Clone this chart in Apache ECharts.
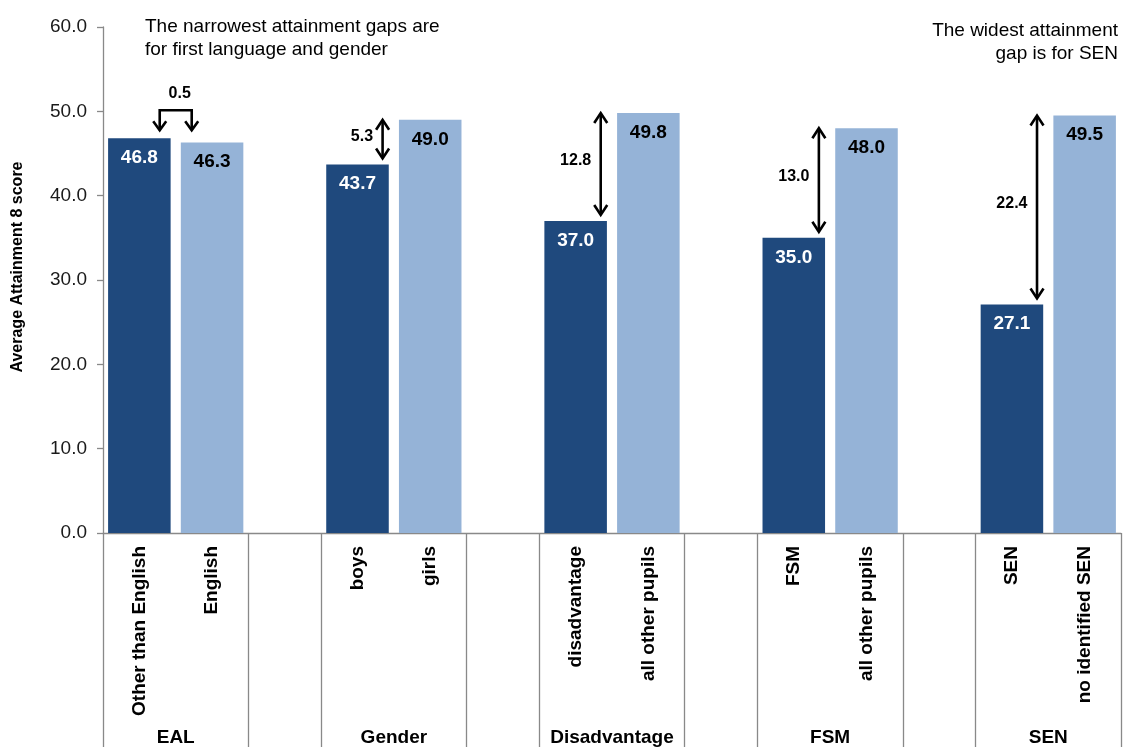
<!DOCTYPE html>
<html>
<head>
<meta charset="utf-8">
<script src="https://cdn.jsdelivr.net/npm/echarts@6/dist/echarts.min.js"></script>
<style>
html,body{margin:0;padding:0;background:#fff;}
#chart{width:1124px;height:747px;}
</style>
</head>
<body>
<div id="chart"></div>
<script>
const groups = ['EAL', 'Gender', 'Disadvantage', 'FSM', 'SEN'];
const labelsA = ['Other than English', 'boys', 'disadvantage', 'FSM', 'SEN'];
const labelsB = ['English', 'girls', 'all other pupils', 'all other pupils', 'no identified SEN'];
const valuesA = [46.8, 43.7, 37.0, 35.0, 27.1];
const valuesB = [46.3, 49.0, 49.8, 48.0, 49.5];
const gapLabels = ['0.5', '5.3', '12.8', '13.0', '22.4'];
const yAxisMin = 0, yAxisMax = 60, yAxisStep = 10;
const noteLeft = 'The narrowest attainment gaps are\nfor first language and gender';
const noteRight = 'The widest attainment\ngap is for SEN';

const FONT = '"Liberation Sans", Arial, Helvetica, sans-serif';
const DARK = '#1F497D', LIGHT = '#95B3D7', AXIS = '#898989';

const categories = [], dataA = [], dataB = [];
groups.forEach((g, i) => {
  categories.push(labelsA[i], labelsB[i]);
  dataA.push(valuesA[i], null);
  dataB.push(null, valuesB[i]);
  if (i < groups.length - 1) { categories.push(''); dataA.push(null); dataB.push(null); }
});
const gapData = groups.map((g, i) => [3 * i, valuesA[i], valuesB[i]]);

function chevron(x, y, dir, hw, h) {
  return [[x - hw, y - dir * h], [x, y], [x + hw, y - dir * h]];
}

function renderGap(params, api) {
  const ia = api.value(0), a = api.value(1), b = api.value(2);
  const band = api.size([1, 0])[0];
  const pA = api.coord([ia, a]);
  const pB = api.coord([ia + 1, b]);
  const label = gapLabels[params.dataIndex];
  const stroke = { stroke: '#000', lineWidth: 2.6, fill: null };
  const txt = (x, y, align) => ({
    type: 'text',
    style: { x: x, y: y, text: label, fill: '#000', fontSize: 16, fontWeight: 'bold', fontFamily: FONT, align: align, verticalAlign: 'middle' }
  });
  if (Math.abs(a - b) < 1) {
    const mid = (pA[0] + pB[0]) / 2;
    const xl = mid - band * 0.22, xr = mid + band * 0.22;
    const tipY = Math.min(pA[1], pB[1]) - 8;
    const topY = tipY - 20;
    return {
      type: 'group',
      children: [
        { type: 'polyline', shape: { points: [[xl, tipY], [xl, topY], [xr, topY], [xr, tipY]] }, style: stroke },
        { type: 'polyline', shape: { points: chevron(xl, tipY, 1, 6.5, 9) }, style: stroke },
        { type: 'polyline', shape: { points: chevron(xr, tipY, 1, 6.5, 9) }, style: stroke },
        txt(mid + 4, topY - 17, 'center')
      ]
    };
  }
  const x = pA[0] + band * 0.345;
  const yTop = Math.min(pA[1], pB[1]);
  const yBot = Math.max(pA[1], pB[1]) - 6;
  return {
    type: 'group',
    children: [
      { type: 'line', shape: { x1: x, y1: yTop + 1, x2: x, y2: yBot - 1 }, style: stroke },
      { type: 'polyline', shape: { points: chevron(x, yTop, -1, 6.5, 10) }, style: stroke },
      { type: 'polyline', shape: { points: chevron(x, yBot, 1, 6.5, 10) }, style: stroke },
      txt(x - 9.5, (yTop + yBot) / 2 - 3, 'right')
    ]
  };
}

const chart = echarts.init(document.getElementById('chart'));
chart.setOption({
  animation: false,
  backgroundColor: '#fff',
  textStyle: { fontFamily: FONT },
  title: [
    { text: noteLeft, left: 145, top: 15.5, padding: 0, textStyle: { fontSize: 19, fontWeight: 'normal', color: '#000', lineHeight: 23, fontFamily: FONT } },
    { text: noteRight, right: 'right', top: 19.5, padding: [0, 6, 0, 0], textStyle: { fontSize: 19, fontWeight: 'normal', color: '#000', lineHeight: 23, fontFamily: FONT } }
  ],
  grid: { left: 103, right: 2, top: 27, bottom: 213, containLabel: false },
  xAxis: [
    {
      type: 'category',
      data: categories,
      boundaryGap: true,
      axisLine: { show: true, lineStyle: { color: AXIS, width: 1.3 } },
      axisTick: {
        show: true, length: 230, inside: false,
        interval: (idx) => idx % 3 !== 1,
        lineStyle: { color: AXIS, width: 1.3 }
      },
      axisLabel: { interval: 0, rotate: 90, margin: 13, fontSize: 19, fontWeight: 'bold', color: '#000', fontFamily: FONT },
      splitLine: { show: false }
    },
    {
      type: 'value',
      position: 'bottom',
      min: 0, max: categories.length, interval: 1,
      axisLine: { show: false }, axisTick: { show: false }, splitLine: { show: false },
      axisLabel: {
        margin: 195, fontSize: 19, fontWeight: 'bold', color: '#000', fontFamily: FONT,
        showMinLabel: true, showMaxLabel: true,
        formatter: (v) => (v % 3 === 1 ? groups[(v - 1) / 3] : '')
      }
    }
  ],
  yAxis: {
    type: 'value',
    min: yAxisMin, max: yAxisMax, interval: yAxisStep,
    name: 'Average Attainment 8 score',
    nameLocation: 'middle', nameGap: 77,
    nameTextStyle: { fontSize: 16, fontWeight: 'bold', color: '#000', fontFamily: FONT, padding: [0, 0, 0, 26] },
    axisLine: { show: true, lineStyle: { color: AXIS, width: 1.3 } },
    axisTick: { show: true, length: 6, lineStyle: { color: AXIS, width: 1.3 } },
    axisLabel: { margin: 16, fontSize: 19, color: '#1a1a1a', fontFamily: FONT, formatter: (v) => v.toFixed(1) },
    splitLine: { show: false }
  },
  series: [
    {
      type: 'bar', data: dataA, barWidth: '86%', barGap: '-100%',
      itemStyle: { color: DARK },
      label: { show: true, position: 'insideTop', distance: 10, color: '#fff', fontSize: 19, fontWeight: 'bold', fontFamily: FONT, formatter: (p) => p.value.toFixed(1) }
    },
    {
      type: 'bar', data: dataB, barWidth: '86%', barGap: '-100%',
      itemStyle: { color: LIGHT },
      label: { show: true, position: 'insideTop', distance: 10, color: '#000', fontSize: 19, fontWeight: 'bold', fontFamily: FONT, formatter: (p) => p.value.toFixed(1) }
    },
    {
      type: 'custom', data: gapData, encode: { x: 0, y: [1, 2] },
      renderItem: renderGap, clip: false, z: 10, silent: true
    }
  ]
});
</script>
</body>
</html>
